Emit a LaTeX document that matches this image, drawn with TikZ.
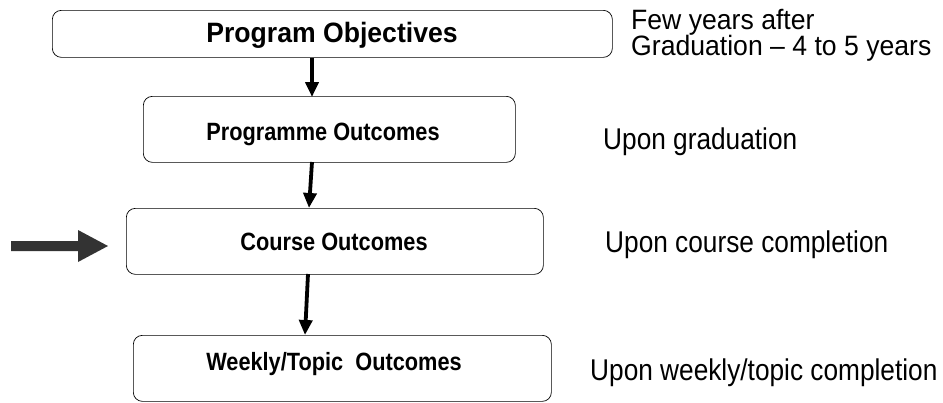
\documentclass[tikz,border=0pt]{standalone}
\usepackage{fontspec}
\setmainfont{Liberation Sans}
\newfontfamily\titlefont[FakeStretch=0.95]{Liberation Sans}
\newfontfamily\boxfont[FakeStretch=0.87]{Liberation Sans}
\newfontfamily\notefont[FakeStretch=0.875]{Liberation Sans}
\newfontfamily\topnotefont[FakeStretch=0.95]{Liberation Sans}
\usetikzlibrary{arrows.meta}
\begin{document}
\begin{tikzpicture}[x=1pt,y=-1pt,
  level/.style={draw=black, line width=0.7pt, rounded corners=9pt, inner sep=0pt, anchor=north west},
  down/.style={line width=3.8pt, -{Triangle[length=15pt,width=13pt]}},
  label/.style={anchor=base, inner sep=0pt, font=\boxfont\bfseries\fontsize{25}{27}\selectfont},
  note/.style={anchor=base west, inner sep=0pt, font=\notefont\fontsize{30}{32}\selectfont}]
\useasboundingbox (0,0) rectangle (943,402);
% outcome levels
\node[level, minimum width=560pt, minimum height=47pt] (po) at (52,10) {};
\node[label, font=\titlefont\bfseries\fontsize{28}{30}\selectfont] (pot) at (332,42) {Program Objectives};
\node[level, minimum width=372pt, minimum height=66pt] (pgo) at (143,96) {};
\node[label] (pgot) at (323,140) {Programme Outcomes};
\node[level, minimum width=417pt, minimum height=66pt] (co) at (126,208) {};
\node[label] (cot) at (334,250) {Course Outcomes};
\node[level, minimum width=418pt, minimum height=66pt] (wo) at (133,335) {};
\node[label] (wot) at (334,370) {Weekly/Topic\ \ Outcomes};
% connectors between levels
\coordinate (a1) at (312,97);
\coordinate (a2s) at (312,162);
\coordinate (a2e) at (309,208);
\coordinate (a3s) at (308,274);
\coordinate (a3e) at (305,335);
\draw[down] (po.south -| a1) -- (a1);
\draw[down] (a2s) -- (a2e);
\draw[down] (a3s) -- (a3e);
% pointer to the course level
\coordinate (tail) at (11,246);
\coordinate (tip) at (108,246);
\fill[black!80] (tail) ++(0,-5) -- (78,241) -- (78,230) -- (tip) -- (78,262) -- (78,251) -- (11,251) -- cycle;
% timing notes
\node[note, font=\topnotefont\fontsize{28}{30}\selectfont] (n1a) at (631,29) {Few years after};
\node[note, font=\topnotefont\fontsize{28}{30}\selectfont] (n1b) at (631,55) {Graduation – 4 to 5 years};
\node[note] (n2) at (603,149) {Upon graduation};
\node[note] (n3) at (605,252) {Upon course completion};
\node[note] (n4) at (590,380) {Upon weekly/topic completion};
\end{tikzpicture}
\end{document}
